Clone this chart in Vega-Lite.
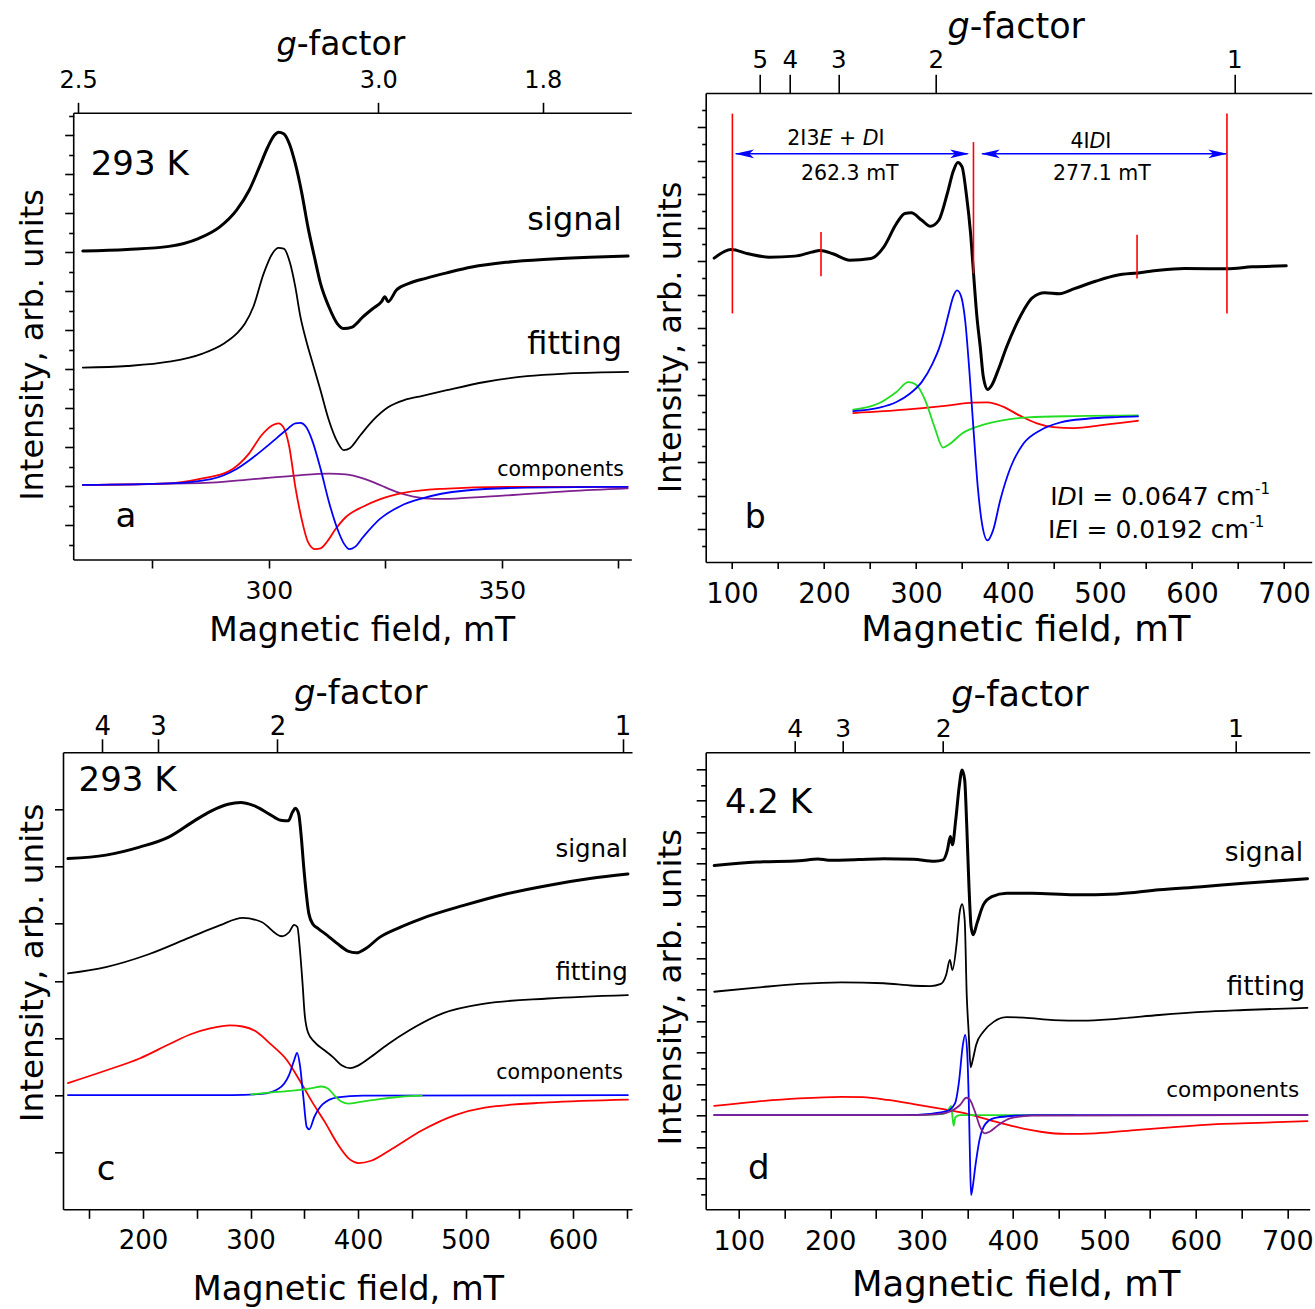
{
"$schema": "https://vega.github.io/schema/vega-lite/v6.json",
"background": "white",
"padding": {"left": 16, "top": 9, "right": 2, "bottom": 2},
"columns": 2,
"align": "each",
"bounds": "flush",
"spacing": {"row": 190.3, "column": 73.7},
"config": {
 "view": {"stroke": null},
 "font": "DejaVu Sans",
 "axis": {"labelFont": "DejaVu Sans", "titleFont": "DejaVu Sans", "labelColor": "#000", "titleColor": "#000", "tickColor": "#000", "domainColor": "#000", "domainWidth": 1.6, "tickWidth": 1.6, "titleFontWeight": "normal", "grid": false, "labelFlush": false, "labelOverlap": false, "titleBaseline": "alphabetic"},
 "text": {"font": "DejaVu Sans", "color": "#000"},
 "line": {"strokeCap": "round", "strokeJoin": "round"}
},
"datasets": {
"a": [
{"s":"signal","B":260.1,"I":7.03},{"s":"signal","B":269.6,"I":7.07},{"s":"signal","B":278.6,"I":7.15},{"s":"signal","B":284.9,"I":7.35},{"s":"signal","B":289.5,"I":7.65},{"s":"signal","B":293.1,"I":8.08},{"s":"signal","B":295.8,"I":8.59},{"s":"signal","B":298.0,"I":9.19},{"s":"signal","B":299.8,"I":9.7},{"s":"signal","B":301.2,"I":10.0},{"s":"signal","B":302.1,"I":10.08},{"s":"signal","B":303.2,"I":10.04},{"s":"signal","B":304.4,"I":9.79},{"s":"signal","B":305.7,"I":9.27},{"s":"signal","B":307.1,"I":8.51},{"s":"signal","B":308.4,"I":7.65},{"s":"signal","B":309.8,"I":6.88},{"s":"signal","B":311.1,"I":6.2},{"s":"signal","B":312.9,"I":5.6},{"s":"signal","B":314.7,"I":5.17},{"s":"signal","B":316.1,"I":5.04},{"s":"signal","B":317.9,"I":5.08},{"s":"signal","B":320.2,"I":5.34},{"s":"signal","B":322.4,"I":5.56},{"s":"signal","B":324.2,"I":5.73},{"s":"signal","B":324.9,"I":5.86},{"s":"signal","B":325.6,"I":5.73},{"s":"signal","B":327.4,"I":6.03},{"s":"signal","B":330.1,"I":6.2},{"s":"signal","B":333.7,"I":6.33},{"s":"signal","B":338.2,"I":6.47},{"s":"signal","B":343.6,"I":6.62},{"s":"signal","B":350.9,"I":6.74},{"s":"signal","B":359.9,"I":6.82},{"s":"signal","B":368.9,"I":6.87},{"s":"signal","B":377.1,"I":6.9},
{"s":"fitting","B":260.1,"I":4.04},{"s":"fitting","B":269.6,"I":4.08},{"s":"fitting","B":278.6,"I":4.19},{"s":"fitting","B":285.8,"I":4.4},{"s":"fitting","B":290.4,"I":4.66},{"s":"fitting","B":293.1,"I":4.91},{"s":"fitting","B":294.9,"I":5.17},{"s":"fitting","B":296.7,"I":5.6},{"s":"fitting","B":298.9,"I":6.45},{"s":"fitting","B":300.8,"I":6.97},{"s":"fitting","B":302.1,"I":7.11},{"s":"fitting","B":303.2,"I":7.09},{"s":"fitting","B":304.6,"I":6.71},{"s":"fitting","B":305.7,"I":6.11},{"s":"fitting","B":306.8,"I":5.34},{"s":"fitting","B":308.0,"I":4.75},{"s":"fitting","B":309.3,"I":4.2},{"s":"fitting","B":311.1,"I":3.46},{"s":"fitting","B":312.9,"I":2.69},{"s":"fitting","B":314.7,"I":2.14},{"s":"fitting","B":316.1,"I":1.92},{"s":"fitting","B":317.4,"I":1.97},{"s":"fitting","B":319.7,"I":2.31},{"s":"fitting","B":322.4,"I":2.69},{"s":"fitting","B":325.6,"I":3.02},{"s":"fitting","B":329.2,"I":3.21},{"s":"fitting","B":332.8,"I":3.31},{"s":"fitting","B":338.2,"I":3.46},{"s":"fitting","B":346.4,"I":3.67},{"s":"fitting","B":355.4,"I":3.82},{"s":"fitting","B":364.4,"I":3.89},{"s":"fitting","B":377.1,"I":3.93},
{"s":"purple","B":260.1,"I":1.03},{"s":"purple","B":287.6,"I":1.09},{"s":"purple","B":296.7,"I":1.18},{"s":"purple","B":305.7,"I":1.27},{"s":"purple","B":312.9,"I":1.32},{"s":"purple","B":316.5,"I":1.3},{"s":"purple","B":320.2,"I":1.2},{"s":"purple","B":323.8,"I":1.03},{"s":"purple","B":327.4,"I":0.85},{"s":"purple","B":331.0,"I":0.73},{"s":"purple","B":335.5,"I":0.67},{"s":"purple","B":340.0,"I":0.68},{"s":"purple","B":350.9,"I":0.76},{"s":"purple","B":364.4,"I":0.87},{"s":"purple","B":377.0,"I":0.94},
{"s":"red","B":260.1,"I":1.03},{"s":"red","B":278.6,"I":1.07},{"s":"red","B":285.8,"I":1.2},{"s":"red","B":291.3,"I":1.37},{"s":"red","B":295.8,"I":1.84},{"s":"red","B":298.5,"I":2.31},{"s":"red","B":300.8,"I":2.56},{"s":"red","B":302.1,"I":2.61},{"s":"red","B":303.2,"I":2.5},{"s":"red","B":304.4,"I":2.01},{"s":"red","B":305.7,"I":0.98},{"s":"red","B":307.1,"I":0.13},{"s":"red","B":308.4,"I":-0.43},{"s":"red","B":310.0,"I":-0.62},{"s":"red","B":311.1,"I":-0.6},{"s":"red","B":312.5,"I":-0.43},{"s":"red","B":314.3,"I":-0.11},{"s":"red","B":316.5,"I":0.2},{"s":"red","B":320.2,"I":0.47},{"s":"red","B":323.8,"I":0.66},{"s":"red","B":329.2,"I":0.83},{"s":"red","B":337.3,"I":0.93},{"s":"red","B":350.9,"I":0.98},{"s":"red","B":377.0,"I":0.98},
{"s":"blue","B":260.1,"I":1.03},{"s":"blue","B":278.6,"I":1.07},{"s":"blue","B":287.6,"I":1.18},{"s":"blue","B":293.1,"I":1.44},{"s":"blue","B":296.7,"I":1.74},{"s":"blue","B":300.3,"I":2.09},{"s":"blue","B":303.9,"I":2.45},{"s":"blue","B":305.7,"I":2.61},{"s":"blue","B":306.8,"I":2.62},{"s":"blue","B":308.0,"I":2.52},{"s":"blue","B":309.3,"I":2.18},{"s":"blue","B":311.1,"I":1.45},{"s":"blue","B":312.9,"I":0.6},{"s":"blue","B":314.7,"I":-0.09},{"s":"blue","B":316.1,"I":-0.47},{"s":"blue","B":317.3,"I":-0.62},{"s":"blue","B":318.5,"I":-0.56},{"s":"blue","B":320.3,"I":-0.3},{"s":"blue","B":323.8,"I":0.15},{"s":"blue","B":328.3,"I":0.49},{"s":"blue","B":332.8,"I":0.68},{"s":"blue","B":341.8,"I":0.88},{"s":"blue","B":355.4,"I":0.96},{"s":"blue","B":377.0,"I":0.98}
],
"b": [
{"s":"signal","B":80.6,"I":8.09},{"s":"signal","B":99.1,"I":8.35},{"s":"signal","B":117.5,"I":8.22},{"s":"signal","B":140.5,"I":8.12},{"s":"signal","B":168.2,"I":8.15},{"s":"signal","B":186.5,"I":8.27},{"s":"signal","B":195.8,"I":8.32},{"s":"signal","B":209.6,"I":8.22},{"s":"signal","B":228.0,"I":8.03},{"s":"signal","B":251.1,"I":8.08},{"s":"signal","B":264.9,"I":8.42},{"s":"signal","B":278.7,"I":9.12},{"s":"signal","B":287.9,"I":9.42},{"s":"signal","B":294.7,"I":9.44},{"s":"signal","B":306.3,"I":9.22},{"s":"signal","B":315.5,"I":9.04},{"s":"signal","B":324.7,"I":9.22},{"s":"signal","B":333.9,"I":10.01},{"s":"signal","B":340.8,"I":10.71},{"s":"signal","B":345.4,"I":10.94},{"s":"signal","B":350.0,"I":10.81},{"s":"signal","B":354.6,"I":10.01},{"s":"signal","B":359.3,"I":8.82},{"s":"signal","B":362.5,"I":7.63},{"s":"signal","B":366.2,"I":6.33},{"s":"signal","B":369.8,"I":5.44},{"s":"signal","B":373.1,"I":4.55},{"s":"signal","B":377.7,"I":4.17},{"s":"signal","B":382.3,"I":4.3},{"s":"signal","B":389.2,"I":4.75},{"s":"signal","B":398.4,"I":5.44},{"s":"signal","B":407.7,"I":6.04},{"s":"signal","B":416.8,"I":6.53},{"s":"signal","B":426.0,"I":6.9},{"s":"signal","B":439.8,"I":7.06},{"s":"signal","B":455.9,"I":7.03},{"s":"signal","B":472.1,"I":7.18},{"s":"signal","B":495.1,"I":7.4},{"s":"signal","B":518.2,"I":7.58},{"s":"signal","B":541.2,"I":7.65},{"s":"signal","B":564.1,"I":7.73},{"s":"signal","B":591.8,"I":7.78},{"s":"signal","B":637.9,"I":7.77},{"s":"signal","B":665.4,"I":7.83},{"s":"signal","B":702.3,"I":7.86},
{"s":"red","B":231.7,"I":3.47},{"s":"red","B":287.9,"I":3.57},{"s":"red","B":333.9,"I":3.69},{"s":"red","B":361.6,"I":3.78},{"s":"red","B":377.7,"I":3.79},{"s":"red","B":393.8,"I":3.67},{"s":"red","B":412.3,"I":3.4},{"s":"red","B":430.6,"I":3.17},{"s":"red","B":449.0,"I":3.05},{"s":"red","B":472.1,"I":3.02},{"s":"red","B":499.7,"I":3.1},{"s":"red","B":522.8,"I":3.18},{"s":"red","B":541.2,"I":3.24},
{"s":"green","B":231.7,"I":3.57},{"s":"green","B":260.3,"I":3.77},{"s":"green","B":278.7,"I":4.1},{"s":"green","B":291.6,"I":4.39},{"s":"green","B":299.4,"I":4.33},{"s":"green","B":310.0,"I":3.85},{"s":"green","B":320.1,"I":3.05},{"s":"green","B":329.3,"I":2.44},{"s":"green","B":336.2,"I":2.54},{"s":"green","B":350.0,"I":2.86},{"s":"green","B":370.8,"I":3.1},{"s":"green","B":393.8,"I":3.25},{"s":"green","B":421.4,"I":3.34},{"s":"green","B":472.1,"I":3.38},{"s":"green","B":541.2,"I":3.4},
{"s":"blue","B":231.7,"I":3.53},{"s":"blue","B":260.3,"I":3.63},{"s":"blue","B":278.7,"I":3.8},{"s":"blue","B":292.5,"I":4.03},{"s":"blue","B":306.3,"I":4.4},{"s":"blue","B":317.8,"I":4.94},{"s":"blue","B":325.0,"I":5.4},{"s":"blue","B":331.0,"I":5.95},{"s":"blue","B":336.0,"I":6.5},{"s":"blue","B":340.5,"I":6.95},{"s":"blue","B":344.6,"I":7.13},{"s":"blue","B":349.0,"I":6.95},{"s":"blue","B":353.5,"I":6.2},{"s":"blue","B":357.9,"I":4.75},{"s":"blue","B":362.5,"I":2.96},{"s":"blue","B":367.1,"I":1.26},{"s":"blue","B":371.7,"I":0.17},{"s":"blue","B":377.7,"I":-0.33},{"s":"blue","B":383.7,"I":-0.03},{"s":"blue","B":391.5,"I":0.87},{"s":"blue","B":402.9,"I":1.86},{"s":"blue","B":416.8,"I":2.56},{"s":"blue","B":435.2,"I":2.96},{"s":"blue","B":458.2,"I":3.2},{"s":"blue","B":485.9,"I":3.3},{"s":"blue","B":518.2,"I":3.35},{"s":"blue","B":541.2,"I":3.37}
],
"c": [
{"s":"signal","B":130.2,"I":5.14},{"s":"signal","B":165.5,"I":5.2},{"s":"signal","B":196.8,"I":5.34},{"s":"signal","B":224.3,"I":5.52},{"s":"signal","B":247.7,"I":5.8},{"s":"signal","B":263.3,"I":5.97},{"s":"signal","B":279.1,"I":6.09},{"s":"signal","B":290.8,"I":6.12},{"s":"signal","B":302.5,"I":6.07},{"s":"signal","B":318.2,"I":5.91},{"s":"signal","B":328.0,"I":5.81},{"s":"signal","B":335.1,"I":5.8},{"s":"signal","B":339.0,"I":5.95},{"s":"signal","B":341.7,"I":6.02},{"s":"signal","B":344.8,"I":5.92},{"s":"signal","B":347.2,"I":5.52},{"s":"signal","B":349.5,"I":4.99},{"s":"signal","B":351.9,"I":4.52},{"s":"signal","B":354.2,"I":4.18},{"s":"signal","B":358.1,"I":3.99},{"s":"signal","B":363.3,"I":3.91},{"s":"signal","B":371.1,"I":3.8},{"s":"signal","B":380.8,"I":3.65},{"s":"signal","B":390.6,"I":3.52},{"s":"signal","B":398.4,"I":3.49},{"s":"signal","B":408.3,"I":3.58},{"s":"signal","B":420.0,"I":3.76},{"s":"signal","B":439.5,"I":3.94},{"s":"signal","B":459.2,"I":4.09},{"s":"signal","B":498.3,"I":4.32},{"s":"signal","B":537.4,"I":4.52},{"s":"signal","B":576.6,"I":4.67},{"s":"signal","B":615.7,"I":4.79},{"s":"signal","B":651.0,"I":4.87},
{"s":"fitting","B":130.2,"I":3.13},{"s":"fitting","B":165.5,"I":3.24},{"s":"fitting","B":204.7,"I":3.46},{"s":"fitting","B":243.8,"I":3.76},{"s":"fitting","B":271.3,"I":3.97},{"s":"fitting","B":292.7,"I":4.1},{"s":"fitting","B":310.3,"I":4.03},{"s":"fitting","B":329.1,"I":3.78},{"s":"fitting","B":335.8,"I":3.85},{"s":"fitting","B":340.6,"I":3.98},{"s":"fitting","B":343.6,"I":3.94},{"s":"fitting","B":346.0,"I":3.53},{"s":"fitting","B":348.4,"I":2.95},{"s":"fitting","B":350.3,"I":2.43},{"s":"fitting","B":353.4,"I":2.1},{"s":"fitting","B":359.4,"I":1.93},{"s":"fitting","B":369.1,"I":1.78},{"s":"fitting","B":376.9,"I":1.66},{"s":"fitting","B":384.7,"I":1.52},{"s":"fitting","B":392.6,"I":1.47},{"s":"fitting","B":400.4,"I":1.52},{"s":"fitting","B":412.2,"I":1.67},{"s":"fitting","B":427.8,"I":1.89},{"s":"fitting","B":447.4,"I":2.13},{"s":"fitting","B":478.7,"I":2.43},{"s":"fitting","B":517.9,"I":2.6},{"s":"fitting","B":576.6,"I":2.69},{"s":"fitting","B":651.0,"I":2.75},
{"s":"red","B":130.2,"I":1.21},{"s":"red","B":165.5,"I":1.43},{"s":"red","B":196.8,"I":1.64},{"s":"red","B":224.3,"I":1.89},{"s":"red","B":243.8,"I":2.06},{"s":"red","B":263.3,"I":2.17},{"s":"red","B":281.0,"I":2.22},{"s":"red","B":292.7,"I":2.2},{"s":"red","B":304.5,"I":2.12},{"s":"red","B":318.2,"I":1.9},{"s":"red","B":333.9,"I":1.61},{"s":"red","B":345.6,"I":1.26},{"s":"red","B":357.3,"I":0.88},{"s":"red","B":369.1,"I":0.53},{"s":"red","B":380.8,"I":0.15},{"s":"red","B":392.6,"I":-0.13},{"s":"red","B":400.4,"I":-0.19},{"s":"red","B":412.2,"I":-0.15},{"s":"red","B":431.7,"I":0.06},{"s":"red","B":459.2,"I":0.38},{"s":"red","B":490.4,"I":0.65},{"s":"red","B":517.9,"I":0.78},{"s":"red","B":576.6,"I":0.87},{"s":"red","B":651.0,"I":0.92},
{"s":"blue","B":130.2,"I":1.0},{"s":"blue","B":283.0,"I":1.0},{"s":"blue","B":310.3,"I":1.02},{"s":"blue","B":326.0,"I":1.11},{"s":"blue","B":335.8,"I":1.35},{"s":"blue","B":340.6,"I":1.61},{"s":"blue","B":343.3,"I":1.74},{"s":"blue","B":346.0,"I":1.52},{"s":"blue","B":349.1,"I":0.97},{"s":"blue","B":352.3,"I":0.44},{"s":"blue","B":354.6,"I":0.4},{"s":"blue","B":359.4,"I":0.62},{"s":"blue","B":367.2,"I":0.84},{"s":"blue","B":380.8,"I":0.96},{"s":"blue","B":404.4,"I":0.99},{"s":"blue","B":651.0,"I":1.0},
{"s":"green","B":300.6,"I":1.01},{"s":"green","B":322.1,"I":1.05},{"s":"green","B":341.7,"I":1.08},{"s":"green","B":357.3,"I":1.12},{"s":"green","B":366.0,"I":1.15},{"s":"green","B":372.2,"I":1.11},{"s":"green","B":377.7,"I":1.0},{"s":"green","B":384.0,"I":0.89},{"s":"green","B":390.6,"I":0.85},{"s":"green","B":402.3,"I":0.88},{"s":"green","B":420.0,"I":0.93},{"s":"green","B":439.5,"I":0.97},{"s":"green","B":459.2,"I":0.99}
],
"d": [
{"s":"signal","B":73.1,"I":9.94},{"s":"signal","B":119.5,"I":10.05},{"s":"signal","B":165.9,"I":10.09},{"s":"signal","B":186.7,"I":10.15},{"s":"signal","B":198.3,"I":10.11},{"s":"signal","B":230.7,"I":10.13},{"s":"signal","B":258.6,"I":10.16},{"s":"signal","B":291.1,"I":10.14},{"s":"signal","B":314.2,"I":10.08},{"s":"signal","B":323.5,"I":10.12},{"s":"signal","B":328.1,"I":10.42},{"s":"signal","B":331.4,"I":10.86},{"s":"signal","B":333.7,"I":10.6},{"s":"signal","B":337.3,"I":11.39},{"s":"signal","B":341.1,"I":12.45},{"s":"signal","B":344.3,"I":12.98},{"s":"signal","B":347.1,"I":12.66},{"s":"signal","B":349.4,"I":11.18},{"s":"signal","B":351.8,"I":9.27},{"s":"signal","B":354.1,"I":8.0},{"s":"signal","B":356.4,"I":7.74},{"s":"signal","B":360.6,"I":8.11},{"s":"signal","B":367.5,"I":8.69},{"s":"signal","B":376.8,"I":8.95},{"s":"signal","B":392.9,"I":9.06},{"s":"signal","B":420.8,"I":9.06},{"s":"signal","B":467.2,"I":9.01},{"s":"signal","B":513.5,"I":9.04},{"s":"signal","B":559.8,"I":9.17},{"s":"signal","B":606.2,"I":9.27},{"s":"signal","B":652.5,"I":9.38},{"s":"signal","B":722.1,"I":9.52},
{"s":"fitting","B":73.1,"I":5.93},{"s":"fitting","B":119.5,"I":6.06},{"s":"fitting","B":165.9,"I":6.18},{"s":"fitting","B":212.2,"I":6.23},{"s":"fitting","B":258.6,"I":6.2},{"s":"fitting","B":291.1,"I":6.12},{"s":"fitting","B":309.6,"I":6.11},{"s":"fitting","B":321.1,"I":6.18},{"s":"fitting","B":326.8,"I":6.46},{"s":"fitting","B":330.9,"I":6.94},{"s":"fitting","B":333.7,"I":6.62},{"s":"fitting","B":338.3,"I":7.47},{"s":"fitting","B":341.5,"I":8.43},{"s":"fitting","B":344.3,"I":8.71},{"s":"fitting","B":347.1,"I":8.21},{"s":"fitting","B":349.4,"I":5.77},{"s":"fitting","B":351.3,"I":4.72},{"s":"fitting","B":353.6,"I":3.53},{"s":"fitting","B":355.9,"I":3.76},{"s":"fitting","B":359.6,"I":4.24},{"s":"fitting","B":367.5,"I":4.66},{"s":"fitting","B":379.1,"I":4.98},{"s":"fitting","B":392.9,"I":5.12},{"s":"fitting","B":411.6,"I":5.11},{"s":"fitting","B":443.9,"I":5.03},{"s":"fitting","B":476.4,"I":5.01},{"s":"fitting","B":513.5,"I":5.07},{"s":"fitting","B":559.8,"I":5.19},{"s":"fitting","B":606.2,"I":5.29},{"s":"fitting","B":652.5,"I":5.35},{"s":"fitting","B":722.1,"I":5.42},
{"s":"red","B":73.1,"I":2.3},{"s":"red","B":119.5,"I":2.44},{"s":"red","B":165.9,"I":2.54},{"s":"red","B":212.2,"I":2.59},{"s":"red","B":235.4,"I":2.58},{"s":"red","B":263.2,"I":2.49},{"s":"red","B":291.1,"I":2.36},{"s":"red","B":318.8,"I":2.22},{"s":"red","B":346.7,"I":2.07},{"s":"red","B":374.4,"I":1.85},{"s":"red","B":402.3,"I":1.64},{"s":"red","B":430.1,"I":1.48},{"s":"red","B":457.9,"I":1.41},{"s":"red","B":490.3,"I":1.43},{"s":"red","B":536.7,"I":1.54},{"s":"red","B":583.0,"I":1.64},{"s":"red","B":629.4,"I":1.73},{"s":"red","B":675.8,"I":1.77},{"s":"red","B":722.1,"I":1.82},
{"s":"green","B":281.7,"I":2.01},{"s":"green","B":323.5,"I":2.04},{"s":"green","B":330.4,"I":2.23},{"s":"green","B":332.3,"I":2.3},{"s":"green","B":333.7,"I":1.96},{"s":"green","B":335.1,"I":1.67},{"s":"green","B":336.9,"I":1.94},{"s":"green","B":342.0,"I":2.01},{"s":"green","B":467.2,"I":2.01},
{"s":"blue","B":73.1,"I":2.01},{"s":"blue","B":281.7,"I":2.01},{"s":"blue","B":309.6,"I":2.05},{"s":"blue","B":328.1,"I":2.14},{"s":"blue","B":336.5,"I":2.38},{"s":"blue","B":341.1,"I":3.13},{"s":"blue","B":344.8,"I":4.18},{"s":"blue","B":347.6,"I":4.56},{"s":"blue","B":349.9,"I":3.97},{"s":"blue","B":351.8,"I":2.17},{"s":"blue","B":353.1,"I":0.37},{"s":"blue","B":354.1,"I":-0.53},{"s":"blue","B":355.9,"I":-0.27},{"s":"blue","B":358.7,"I":0.37},{"s":"blue","B":363.3,"I":1.22},{"s":"blue","B":369.8,"I":1.73},{"s":"blue","B":379.1,"I":1.91},{"s":"blue","B":397.6,"I":1.98},{"s":"blue","B":420.8,"I":2.01},{"s":"blue","B":722.1,"I":2.01},
{"s":"purple","B":73.1,"I":2.01},{"s":"purple","B":291.1,"I":2.01},{"s":"purple","B":318.8,"I":2.04},{"s":"purple","B":332.7,"I":2.14},{"s":"purple","B":342.0,"I":2.33},{"s":"purple","B":348.9,"I":2.56},{"s":"purple","B":352.2,"I":2.52},{"s":"purple","B":358.3,"I":2.12},{"s":"purple","B":363.8,"I":1.64},{"s":"purple","B":368.8,"I":1.43},{"s":"purple","B":374.4,"I":1.48},{"s":"purple","B":383.7,"I":1.69},{"s":"purple","B":397.6,"I":1.91},{"s":"purple","B":420.8,"I":1.99},{"s":"purple","B":722.1,"I":2.01}
]
},
"concat": [
{
 "width": 566, "height": 467,
 "resolve": {"axis": {"x": "independent", "y": "independent"}},
 "layer": [
  {"data": {"name": "a"}, "transform": [{"filter": "datum.s != 'signal'"}],
   "mark": {"type": "line", "interpolate": "monotone", "strokeWidth": 1.8},
   "encoding": {
    "x": {"field": "B", "type": "quantitative", "scale": {"domain": [255.85, 377.3], "nice": false, "zero": false},
     "axis": {"orient": "bottom", "values": [275,300,325,350,375], "labelExpr": "datum.value % 50 == 0 ? datum.label : ''", "domain": false, "tickSize": 8, "labelPadding": 10.5, "labelFontSize": 25, "title": "Magnetic field, mT", "titleFontSize": 33, "titleX": 298.7, "titleY": 80.3}},
    "y": {"field": "I", "type": "quantitative", "scale": {"domain": [-0.897, 11.085], "nice": false, "zero": false},
     "axis": {"orient": "left", "offset": -10.7, "values": [-0.5,0,0.5,1,1.5,2,2.5,3,3.5,4,4.5,5,5.5,6,6.5,7,7.5,8,8.5,9,9.5,10,10.5], "labels": false, "domain": false, "tickSize": {"condition": {"test": "datum.value % 1 == 0", "value": 9}, "value": 5}, "title": "Intensity, arb. units", "titleFontSize": 32, "titleX": -31, "titleY": 251.5}},
    "color": {"field": "s", "type": "nominal", "scale": {"domain": ["fitting","red","blue","green","purple","signal"], "range": ["#000000","#ff0000","#0000ff","#22dd22","#7f2090","#000000"]}, "legend": null}
   }},
  {"data": {"name": "a"}, "transform": [{"filter": "datum.s == 'signal'"}],
   "mark": {"type": "line", "interpolate": "monotone", "strokeWidth": 3, "color": "#000"},
   "encoding": {"x": {"field": "B", "type": "quantitative", "axis": null}, "y": {"field": "I", "type": "quantitative", "axis": null}}},
  {"data": {"values": [{"B": 259.1}, {"B": 323.5}, {"B": 358.8}]},
   "mark": {"type": "tick", "opacity": 0},
   "encoding": {"x": {"field": "B", "type": "quantitative",
     "axis": {"orient": "top", "offset": -20.3, "values": [259.1, 323.5, 358.8], "labelExpr": "datum.value < 300 ? '2.5' : datum.value < 340 ? '3.0' : '1.8'", "domain": false, "tickSize": 11, "labelPadding": 9.7, "labelFontSize": 24, "title": null}}}},
  {"data": {"values": [{"B": 258.15, "B2": 258.15, "I": -0.897, "I2": 10.564}, {"B": 258.15, "B2": 377.9, "I": -0.897, "I2": -0.897}, {"B": 258.15, "B2": 377.9, "I": 10.564, "I2": 10.564}]},
   "mark": {"type": "rule", "strokeWidth": 1.6, "color": "#000"},
   "encoding": {"x": {"field": "B", "type": "quantitative", "axis": null}, "x2": {"field": "B2"}, "y": {"field": "I", "type": "quantitative", "axis": null}, "y2": {"field": "I2"}}},
  {"data": {"values": [{"B": 261.8, "I": 8.97, "t": "293 K"}, {"B": 267.1, "I": -0.06, "t": "a"}]},
   "mark": {"type": "text", "align": "left", "baseline": "alphabetic", "fontSize": 34},
   "encoding": {"x": {"field": "B", "type": "quantitative", "axis": null}, "y": {"field": "I", "type": "quantitative", "axis": null}, "text": {"field": "t"}}},
  {"data": {"values": [{"B": 375.8, "I": 7.56, "t": "signal"}, {"B": 375.8, "I": 4.4, "t": "fitting"}]},
   "mark": {"type": "text", "align": "right", "baseline": "alphabetic", "fontSize": 32},
   "encoding": {"x": {"field": "B", "type": "quantitative", "axis": null}, "y": {"field": "I", "type": "quantitative", "axis": null}, "text": {"field": "t"}}},
  {"data": {"values": [{"B": 376.2, "I": 1.26, "t": "components"}]},
   "mark": {"type": "text", "align": "right", "baseline": "alphabetic", "fontSize": 20.5},
   "encoding": {"x": {"field": "B", "type": "quantitative", "axis": null}, "y": {"field": "I", "type": "quantitative", "axis": null}, "text": {"field": "t"}}},
  {"data": {"values": [{"B": 306, "I": 12.05, "t": "g"}]},
   "mark": {"type": "text", "align": "right", "baseline": "alphabetic", "fontSize": 32, "fontStyle": "italic"},
   "encoding": {"x": {"field": "B", "type": "quantitative", "axis": null}, "y": {"field": "I", "type": "quantitative", "axis": null}, "text": {"field": "t"}}},
  {"data": {"values": [{"B": 306, "I": 12.05, "t": "-factor"}]},
   "mark": {"type": "text", "align": "left", "baseline": "alphabetic", "fontSize": 33},
   "encoding": {"x": {"field": "B", "type": "quantitative", "axis": null}, "y": {"field": "I", "type": "quantitative", "axis": null}, "text": {"field": "t"}}}
 ]
},
{
 "width": 606, "height": 469,
 "resolve": {"axis": {"x": "independent", "y": "independent"}},
 "layer": [
  {"data": {"name": "b"}, "transform": [{"filter": "datum.s != 'signal'"}],
   "mark": {"type": "line", "interpolate": "monotone", "strokeWidth": 1.8},
   "encoding": {
    "x": {"field": "B", "type": "quantitative", "scale": {"domain": [71.4, 730], "nice": false, "zero": false},
     "axis": {"orient": "bottom", "values": [100,150,200,250,300,350,400,450,500,550,600,650,700], "labelExpr": "datum.value % 100 == 0 ? datum.label : ''", "tickSize": 6.5, "labelPadding": 11.8, "labelFontSize": 27.5, "title": "Magnetic field, mT", "titleFontSize": 35.5, "titleX": 319.6, "titleY": 78.3}},
    "y": {"field": "I", "type": "quantitative", "scale": {"domain": [-0.972, 13.015], "nice": false, "zero": false},
     "axis": {"orient": "left", "values": [-0.5,0,0.5,1,1.5,2,2.5,3,3.5,4,4.5,5,5.5,6,6.5,7,7.5,8,8.5,9,9.5,10,10.5,11,11.5,12,12.5], "labels": false, "tickSize": {"condition": {"test": "datum.value % 1 == 0", "value": 8.5}, "value": 4}, "title": "Intensity, arb. units", "titleFontSize": 32, "titleX": -25.7, "titleY": 244}},
    "color": {"field": "s", "type": "nominal", "scale": {"domain": ["fitting","red","blue","green","purple","signal"], "range": ["#000000","#ff0000","#0000ff","#22dd22","#7f2090","#000000"]}, "legend": null}
   }},
  {"data": {"name": "b"}, "transform": [{"filter": "datum.s == 'signal'"}],
   "mark": {"type": "line", "interpolate": "monotone", "strokeWidth": 3, "color": "#000"},
   "encoding": {"x": {"field": "B", "type": "quantitative", "axis": null}, "y": {"field": "I", "type": "quantitative", "axis": null}}},
  {"data": {"values": [{"B": 130.3}, {"B": 162.9}, {"B": 215.5}, {"B": 321.4}, {"B": 646}]},
   "mark": {"type": "tick", "opacity": 0},
   "encoding": {"x": {"field": "B", "type": "quantitative",
     "axis": {"orient": "top", "values": [130.3, 162.9, 215.5, 321.4, 646], "labelExpr": "datum.value < 145 ? '5' : datum.value < 190 ? '4' : datum.value < 260 ? '3' : datum.value < 500 ? '2' : '1'", "tickSize": 18.7, "labelPadding": 2.2, "labelFontSize": 24.5, "title": null}}}},
  {"data": {"values": [{"B": 100.4, "I": 6.44, "I2": 12.4}, {"B": 196.7, "I": 7.55, "I2": 8.87}, {"B": 362.4, "I": 7.63, "I2": 11.55}, {"B": 540.2, "I": 7.48, "I2": 8.79}, {"B": 637.9, "I": 6.44, "I2": 12.4}]},
   "mark": {"type": "rule", "strokeWidth": 1.6, "color": "#ff0000"},
   "encoding": {"x": {"field": "B", "type": "quantitative", "axis": null}, "y": {"field": "I", "type": "quantitative", "axis": null}, "y2": {"field": "I2"}}},
  {"data": {"values": [{"B": 104, "B2": 356, "I": 11.2}, {"B": 372, "B2": 637, "I": 11.2}]},
   "mark": {"type": "rule", "strokeWidth": 1.5, "color": "#0000ff"},
   "encoding": {"x": {"field": "B", "type": "quantitative", "axis": null}, "x2": {"field": "B2"}, "y": {"field": "I", "type": "quantitative", "axis": null}}},
  {"data": {"values": [{"B": 103.3, "I": 11.2}, {"B": 370.4, "I": 11.2}]},
   "mark": {"type": "point", "shape": "M0,0 L2,-0.45 L1.5,0 L2,0.45 Z", "size": 361, "filled": true, "opacity": 1, "color": "#0000ff"},
   "encoding": {"x": {"field": "B", "type": "quantitative", "axis": null}, "y": {"field": "I", "type": "quantitative", "axis": null}}},
  {"data": {"values": [{"B": 357.7, "I": 11.2}, {"B": 638.3, "I": 11.2}]},
   "mark": {"type": "point", "shape": "M0,0 L-2,-0.45 L-1.5,0 L-2,0.45 Z", "size": 361, "filled": true, "opacity": 1, "color": "#0000ff"},
   "encoding": {"x": {"field": "B", "type": "quantitative", "axis": null}, "y": {"field": "I", "type": "quantitative", "axis": null}}},
  {"data": {"values": [{"B": 160.1, "I": 11.46, "t": "2I3"}, {"B": 216.2, "I": 11.46, "t": "+"}, {"B": 259.15, "I": 11.46, "t": "I"}, {"B": 467.75, "I": 11.37, "t": "4I"}, {"B": 505.67, "I": 11.37, "t": "I"}]},
   "mark": {"type": "text", "align": "left", "baseline": "alphabetic", "fontSize": 20.5},
   "encoding": {"x": {"field": "B", "type": "quantitative", "axis": null}, "y": {"field": "I", "type": "quantitative", "axis": null}, "text": {"field": "t"}}},
  {"data": {"values": [{"B": 195.03, "I": 11.46, "t": "E"}, {"B": 241.98, "I": 11.46, "t": "D"}, {"B": 488.5, "I": 11.37, "t": "D"}]},
   "mark": {"type": "text", "align": "left", "baseline": "alphabetic", "fontSize": 20.5, "fontStyle": "italic"},
   "encoding": {"x": {"field": "B", "type": "quantitative", "axis": null}, "y": {"field": "I", "type": "quantitative", "axis": null}, "text": {"field": "t"}}},
  {"data": {"values": [{"B": 228, "I": 10.41, "t": "262.3 mT"}, {"B": 502, "I": 10.41, "t": "277.1 mT"}]},
   "mark": {"type": "text", "align": "center", "baseline": "alphabetic", "fontSize": 20.5},
   "encoding": {"x": {"field": "B", "type": "quantitative", "axis": null}, "y": {"field": "I", "type": "quantitative", "axis": null}, "text": {"field": "t"}}},
  {"data": {"values": [{"B": 668, "I": 0.72, "t": "I = 0.0647 cm"}, {"B": 453.9, "I": 0.72, "t": "I"}, {"B": 661.8, "I": -0.27, "t": "I = 0.0192 cm"}, {"B": 451.4, "I": -0.27, "t": "I"}]},
   "mark": {"type": "text", "align": "right", "baseline": "alphabetic", "fontSize": 25},
   "encoding": {"x": {"field": "B", "type": "quantitative", "axis": null}, "y": {"field": "I", "type": "quantitative", "axis": null}, "text": {"field": "t"}}},
  {"data": {"values": [{"B": 474.8, "I": 0.72, "t": "D"}, {"B": 468.6, "I": -0.27, "t": "E"}]},
   "mark": {"type": "text", "align": "right", "baseline": "alphabetic", "fontSize": 25, "fontStyle": "italic"},
   "encoding": {"x": {"field": "B", "type": "quantitative", "axis": null}, "y": {"field": "I", "type": "quantitative", "axis": null}, "text": {"field": "t"}}},
  {"data": {"values": [{"B": 668.5, "I": 1.07, "t": "-1"}, {"B": 662.3, "I": 0.07, "t": "-1"}]},
   "mark": {"type": "text", "align": "left", "baseline": "alphabetic", "fontSize": 15},
   "encoding": {"x": {"field": "B", "type": "quantitative", "axis": null}, "y": {"field": "I", "type": "quantitative", "axis": null}, "text": {"field": "t"}}},
  {"data": {"values": [{"B": 113.8, "I": 0.05, "t": "b"}]},
   "mark": {"type": "text", "align": "left", "baseline": "alphabetic", "fontSize": 33},
   "encoding": {"x": {"field": "B", "type": "quantitative", "axis": null}, "y": {"field": "I", "type": "quantitative", "axis": null}, "text": {"field": "t"}}},
  {"data": {"values": [{"B": 358.4, "I": 14.67, "t": "g"}]},
   "mark": {"type": "text", "align": "right", "baseline": "alphabetic", "fontSize": 35, "fontStyle": "italic"},
   "encoding": {"x": {"field": "B", "type": "quantitative", "axis": null}, "y": {"field": "I", "type": "quantitative", "axis": null}, "text": {"field": "t"}}},
  {"data": {"values": [{"B": 358.4, "I": 14.67, "t": "-factor"}]},
   "mark": {"type": "text", "align": "left", "baseline": "alphabetic", "fontSize": 35},
   "encoding": {"x": {"field": "B", "type": "quantitative", "axis": null}, "y": {"field": "I", "type": "quantitative", "axis": null}, "text": {"field": "t"}}}
 ]
},
{
 "width": 569, "height": 457,
 "resolve": {"axis": {"x": "independent", "y": "independent"}},
 "layer": [
  {"data": {"name": "c"}, "transform": [{"filter": "datum.s != 'signal'"}],
   "mark": {"type": "line", "interpolate": "monotone", "strokeWidth": 1.8},
   "encoding": {
    "x": {"field": "B", "type": "quantitative", "scale": {"domain": [125.6, 654.8], "nice": false, "zero": false},
     "axis": {"orient": "bottom", "values": [150,200,250,300,350,400,450,500,550,600,650], "labelExpr": "datum.value % 100 == 0 ? datum.label : ''", "tickSize": 9, "labelPadding": 9.5, "labelFontSize": 26, "title": "Magnetic field, mT", "titleFontSize": 33.6, "titleX": 284.9, "titleY": 90}},
    "y": {"field": "I", "type": "quantitative", "scale": {"domain": [-1, 7], "nice": false, "zero": false},
     "axis": {"orient": "left", "values": [0,1,2,3,4,5,6], "labels": false, "tickSize": 8.5, "title": "Intensity, arb. units", "titleFontSize": 32.7, "titleX": -20.3, "titleY": 210.2}},
    "color": {"field": "s", "type": "nominal", "scale": {"domain": ["fitting","red","blue","green","purple","signal"], "range": ["#000000","#ff0000","#0000ff","#22dd22","#7f2090","#000000"]}, "legend": null}
   }},
  {"data": {"name": "c"}, "transform": [{"filter": "datum.s == 'signal'"}],
   "mark": {"type": "line", "interpolate": "monotone", "strokeWidth": 3, "color": "#000"},
   "encoding": {"x": {"field": "B", "type": "quantitative", "axis": null}, "y": {"field": "I", "type": "quantitative", "axis": null}}},
  {"data": {"values": [{"B": 162.2}, {"B": 214}, {"B": 325}, {"B": 646}]},
   "mark": {"type": "tick", "opacity": 0},
   "encoding": {"x": {"field": "B", "type": "quantitative",
     "axis": {"orient": "top", "values": [162.2, 214, 325, 646], "labelExpr": "datum.value < 190 ? '4' : datum.value < 270 ? '3' : datum.value < 500 ? '2' : '1'", "tickSize": 13.5, "labelPadding": -1, "labelFontSize": 26, "title": null}}}},
  {"data": {"values": [{"B": 140.1, "I": 6.32, "t": "293 K"}, {"B": 156.9, "I": -0.49, "t": "c"}]},
   "mark": {"type": "text", "align": "left", "baseline": "alphabetic", "fontSize": 34},
   "encoding": {"x": {"field": "B", "type": "quantitative", "axis": null}, "y": {"field": "I", "type": "quantitative", "axis": null}, "text": {"field": "t"}}},
  {"data": {"values": [{"B": 651, "I": 5.17, "t": "signal"}, {"B": 651, "I": 3.02, "t": "fitting"}]},
   "mark": {"type": "text", "align": "right", "baseline": "alphabetic", "fontSize": 24.5},
   "encoding": {"x": {"field": "B", "type": "quantitative", "axis": null}, "y": {"field": "I", "type": "quantitative", "axis": null}, "text": {"field": "t"}}},
  {"data": {"values": [{"B": 646.4, "I": 1.28, "t": "components"}]},
   "mark": {"type": "text", "align": "right", "baseline": "alphabetic", "fontSize": 20.5},
   "encoding": {"x": {"field": "B", "type": "quantitative", "axis": null}, "y": {"field": "I", "type": "quantitative", "axis": null}, "text": {"field": "t"}}},
  {"data": {"values": [{"B": 360.5, "I": 7.85, "t": "g"}]},
   "mark": {"type": "text", "align": "right", "baseline": "alphabetic", "fontSize": 34, "fontStyle": "italic"},
   "encoding": {"x": {"field": "B", "type": "quantitative", "axis": null}, "y": {"field": "I", "type": "quantitative", "axis": null}, "text": {"field": "t"}}},
  {"data": {"values": [{"B": 360.5, "I": 7.85, "t": "-factor"}]},
   "mark": {"type": "text", "align": "left", "baseline": "alphabetic", "fontSize": 34},
   "encoding": {"x": {"field": "B", "type": "quantitative", "axis": null}, "y": {"field": "I", "type": "quantitative", "axis": null}, "text": {"field": "t"}}}
 ]
},
{
 "width": 604, "height": 457,
 "resolve": {"axis": {"x": "independent", "y": "independent"}},
 "layer": [
  {"data": {"name": "d"}, "transform": [{"filter": "datum.s != 'signal'"}],
   "mark": {"type": "line", "interpolate": "monotone", "strokeWidth": 1.8},
   "encoding": {
    "x": {"field": "B", "type": "quantitative", "scale": {"domain": [63.8, 724.5], "nice": false, "zero": false},
     "axis": {"orient": "bottom", "values": [100,150,200,250,300,350,400,450,500,550,600,650,700], "labelExpr": "datum.value % 100 == 0 ? datum.label : ''", "tickSize": 9, "labelPadding": 10.4, "labelFontSize": 27, "title": "Magnetic field, mT", "titleFontSize": 35.4, "titleX": 310, "titleY": 85.7}},
    "y": {"field": "I", "type": "quantitative", "scale": {"domain": [-0.985, 13.54], "nice": false, "zero": false},
     "axis": {"orient": "left", "values": [-0.5,0,0.5,1,1.5,2,2.5,3,3.5,4,4.5,5,5.5,6,6.5,7,7.5,8,8.5,9,9.5,10,10.5,11,11.5,12,12.5,13], "labels": false, "tickSize": {"condition": {"test": "datum.value % 1 == 0", "value": 9.5}, "value": 5}, "title": "Intensity, arb. units", "titleFontSize": 32.5, "titleX": -25.7, "titleY": 234.4}},
    "color": {"field": "s", "type": "nominal", "scale": {"domain": ["fitting","red","blue","green","purple","signal"], "range": ["#000000","#ff0000","#0000ff","#22dd22","#7f2090","#000000"]}, "legend": null}
   }},
  {"data": {"name": "d"}, "transform": [{"filter": "datum.s == 'signal'"}],
   "mark": {"type": "line", "interpolate": "monotone", "strokeWidth": 3, "color": "#000"},
   "encoding": {"x": {"field": "B", "type": "quantitative", "axis": null}, "y": {"field": "I", "type": "quantitative", "axis": null}}},
  {"data": {"values": [{"B": 161.2}, {"B": 213.7}, {"B": 323.5}, {"B": 643.3}]},
   "mark": {"type": "tick", "opacity": 0},
   "encoding": {"x": {"field": "B", "type": "quantitative",
     "axis": {"orient": "top", "values": [161.2, 213.7, 323.5, 643.3], "labelExpr": "datum.value < 190 ? '4' : datum.value < 270 ? '3' : datum.value < 500 ? '2' : '1'", "tickSize": 11.6, "labelPadding": -0.9, "labelFontSize": 25, "title": null}}}},
  {"data": {"values": [{"B": 84.8, "I": 11.61, "t": "4.2 K"}, {"B": 110.2, "I": -0.03, "t": "d"}]},
   "mark": {"type": "text", "align": "left", "baseline": "alphabetic", "fontSize": 34},
   "encoding": {"x": {"field": "B", "type": "quantitative", "axis": null}, "y": {"field": "I", "type": "quantitative", "axis": null}, "text": {"field": "t"}}},
  {"data": {"values": [{"B": 717.2, "I": 10.07, "t": "signal"}, {"B": 719.4, "I": 5.83, "t": "fitting"}]},
   "mark": {"type": "text", "align": "right", "baseline": "alphabetic", "fontSize": 26.5},
   "encoding": {"x": {"field": "B", "type": "quantitative", "axis": null}, "y": {"field": "I", "type": "quantitative", "axis": null}, "text": {"field": "t"}}},
  {"data": {"values": [{"B": 712.9, "I": 2.59, "t": "components"}]},
   "mark": {"type": "text", "align": "right", "baseline": "alphabetic", "fontSize": 21.5},
   "encoding": {"x": {"field": "B", "type": "quantitative", "axis": null}, "y": {"field": "I", "type": "quantitative", "axis": null}, "text": {"field": "t"}}},
  {"data": {"values": [{"B": 356.8, "I": 15.0, "t": "g"}]},
   "mark": {"type": "text", "align": "right", "baseline": "alphabetic", "fontSize": 35, "fontStyle": "italic"},
   "encoding": {"x": {"field": "B", "type": "quantitative", "axis": null}, "y": {"field": "I", "type": "quantitative", "axis": null}, "text": {"field": "t"}}},
  {"data": {"values": [{"B": 356.8, "I": 15.0, "t": "-factor"}]},
   "mark": {"type": "text", "align": "left", "baseline": "alphabetic", "fontSize": 35},
   "encoding": {"x": {"field": "B", "type": "quantitative", "axis": null}, "y": {"field": "I", "type": "quantitative", "axis": null}, "text": {"field": "t"}}}
 ]
}
]
}
